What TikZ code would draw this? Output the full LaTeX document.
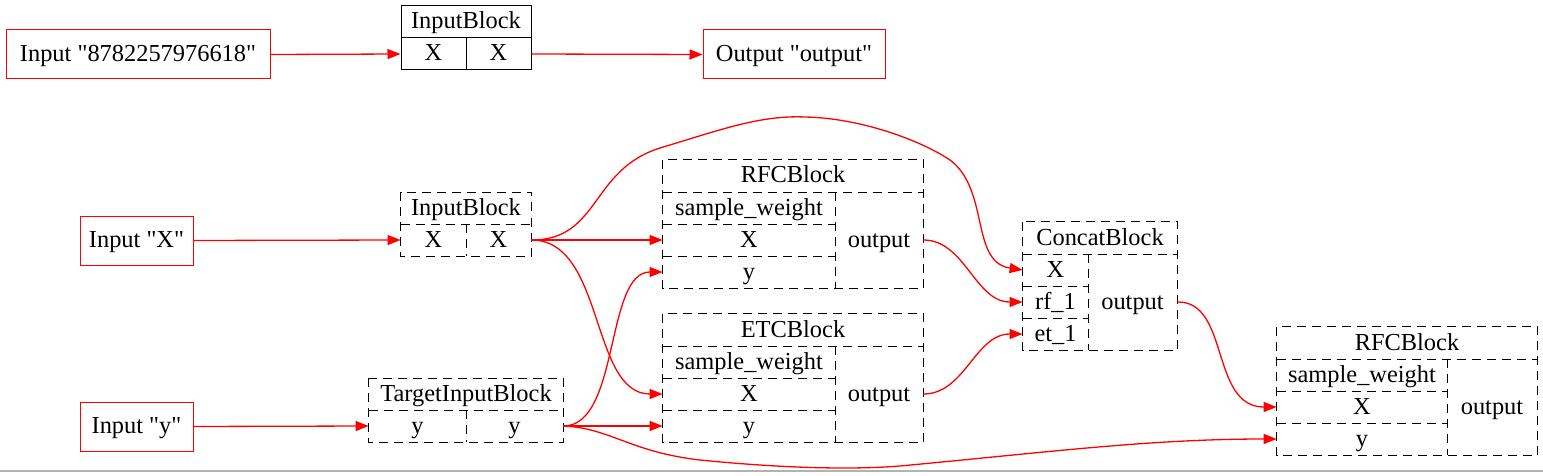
\documentclass[tikz,border=0pt]{standalone}
\usepackage{fontspec}
\setmainfont{Liberation Serif}
\usepackage{tikz}
\usetikzlibrary{positioning, arrows.meta}

\begin{document}
\begin{tikzpicture}[
    x=0.5pt, y=-0.5pt,
    inbox/.style={rectangle, draw=red, line width=0.5pt, minimum height=24.5pt,
                  inner sep=0pt, text height=8.5pt, text depth=1.5pt,
                  font=\fontsize{12.2}{14}\selectfont},
    cell/.style={rectangle, inner sep=0pt, minimum height=16pt,
                 text height=8.5pt, text depth=1.5pt,
                 font=\fontsize{12.2}{14}\selectfont},
    scell/.style={cell, draw=black, line width=0.5pt},
    dline/.style={draw=black, line width=0.5pt, dash pattern=on 4.5pt off 3pt},
    wd/.style={minimum width=#1*0.5pt},
    ht/.style={minimum height=#1*0.5pt},
    link/.style={-{Triangle[length=6.5pt, width=5pt]}, red, line width=0.65pt}
]
    \useasboundingbox (0,0) rectangle (1543,476);

    % === Top row: numbered input ===
    \node[inbox, wd=264] (in0) at (138,54.5) {Input \textquotedbl 8782257976618\textquotedbl};
    \node[scell, wd=130] (ib0h) at (466,22) {InputBlock};
    \node[scell, wd=65] (ib0a) at (433.5,54) {X};
    \node[scell, wd=65] (ib0b) at (498.5,54) {X};
    \node[inbox, wd=182] (out0) at (794,54.5) {Output \textquotedbl output\textquotedbl};
    \draw[link] (in0.east) -- (ib0a.west);
    \draw[link] (ib0b.east) -- (out0.west);

    % === Inputs ===
    \node[inbox, wd=113] (inX) at (136.5,240.5) {Input \textquotedbl X\textquotedbl};
    \node[cell, wd=130] (ib1h) at (466,208.5) {InputBlock};
    \node[cell, wd=65] (ib1a) at (433.5,240) {X};
    \node[cell, wd=65] (ib1b) at (498.5,240) {X};
    \draw[dline] (ib1h.north west) rectangle (ib1b.south east);
    \draw[dline] (ib1h.south west) -- (ib1h.south east);
    \draw[dline] (ib1a.north east) -- (ib1a.south east);

    \node[inbox, wd=113] (inY) at (136.5,426.5) {Input \textquotedbl y\textquotedbl};
    \node[cell, wd=194] (tibh) at (466,394.5) {TargetInputBlock};
    \node[cell, wd=97] (tiba) at (417.5,426) {y};
    \node[cell, wd=97] (tibb) at (514.5,426) {y};
    \draw[dline] (tibh.north west) rectangle (tibb.south east);
    \draw[dline] (tibh.south west) -- (tibh.south east);
    \draw[dline] (tiba.north east) -- (tiba.south east);

    % === RFCBlock ===
    \node[cell, wd=260] (rfah) at (793,176) {RFCBlock};
    \node[cell, wd=172] (rfas) at (749,208) {sample\_weight};
    \node[cell, wd=172] (rfax) at (749,240) {X};
    \node[cell, wd=172] (rfay) at (749,272) {y};
    \node[cell, wd=88, ht=96] (rfao) at (879,240) {output};
    \draw[dline] (rfah.north west) rectangle (rfao.south east);
    \draw[dline] (rfah.south west) -- (rfah.south east);
    \draw[dline] (rfas.north east) -- (rfay.south east);
    \draw[dline] (rfas.south west) -- (rfas.south east);
    \draw[dline] (rfax.south west) -- (rfax.south east);

    % === ETCBlock ===
    \node[cell, wd=260] (etch) at (793,330) {ETCBlock};
    \node[cell, wd=172] (etcs) at (749,362) {sample\_weight};
    \node[cell, wd=172] (etcx) at (749,394) {X};
    \node[cell, wd=172] (etcy) at (749,426) {y};
    \node[cell, wd=88, ht=96] (etco) at (879,394) {output};
    \draw[dline] (etch.north west) rectangle (etco.south east);
    \draw[dline] (etch.south west) -- (etch.south east);
    \draw[dline] (etcs.north east) -- (etcy.south east);
    \draw[dline] (etcs.south west) -- (etcs.south east);
    \draw[dline] (etcx.south west) -- (etcx.south east);

    % === ConcatBlock ===
    \node[cell, wd=154] (cath) at (1100,238) {ConcatBlock};
    \node[cell, wd=65] (catx) at (1055.5,270) {X};
    \node[cell, wd=65] (catr) at (1055.5,302) {rf\_1};
    \node[cell, wd=65] (cate) at (1055.5,334) {et\_1};
    \node[cell, wd=89, ht=96] (cato) at (1132.5,302) {output};
    \draw[dline] (cath.north west) rectangle (cato.south east);
    \draw[dline] (cath.south west) -- (cath.south east);
    \draw[dline] (catx.north east) -- (cate.south east);
    \draw[dline] (catx.south west) -- (catx.south east);
    \draw[dline] (catr.south west) -- (catr.south east);

    % === Final RFCBlock ===
    \node[cell, wd=260] (rfbh) at (1407,343) {RFCBlock};
    \node[cell, wd=170] (rfbs) at (1362,375) {sample\_weight};
    \node[cell, wd=170] (rfbx) at (1362,407) {X};
    \node[cell, wd=170] (rfby) at (1362,439) {y};
    \node[cell, wd=90, ht=96] (rfbo) at (1492,407) {output};
    \draw[dline] (rfbh.north west) rectangle (rfbo.south east);
    \draw[dline] (rfbh.south west) -- (rfbh.south east);
    \draw[dline] (rfbs.north east) -- (rfby.south east);
    \draw[dline] (rfbs.south west) -- (rfbs.south east);
    \draw[dline] (rfbx.south west) -- (rfbx.south east);

    % === Connections ===
    \draw[link] (inX.east) -- (ib1a.west);
    \draw[link] (inY.east) -- (tiba.west);
    \draw[link] (ib1b.east) -- (rfax.west);
    \draw[link] (ib1b.east) .. controls (605,240) and (590,394) .. (etcx.west);
    \draw[link] (ib1b.east) .. controls (600,240) and (590,170) .. (660,148)
        .. controls (720,130) and (760,115) .. (805,117)
        .. controls (860,118) and (920,140) .. (950,160)
        .. controls (990,190) and (970,262) .. (catx.west);
    \draw[link] (tibb.east) .. controls (620,426) and (605,272) .. (rfay.west);
    \draw[link] (tibb.east) -- (etcy.west);
    \draw[link] (tibb.east) .. controls (610,428) and (630,452) .. (700,460)
        .. controls (780,468) and (850,470) .. (900,466)
        .. controls (1050,452) and (1150,439) .. (rfby.west);
    \draw[link] (rfao.east) .. controls (965,240) and (975,302) .. (catr.west);
    \draw[link] (etco.east) .. controls (965,394) and (975,334) .. (cate.west);
    \draw[link] (cato.east) .. controls (1230,301) and (1210,407) .. (rfbx.west);

    % bottom rule
    \draw[gray!60, line width=0.7pt] (0,471) -- (1543,471);
\end{tikzpicture}
\end{document}
